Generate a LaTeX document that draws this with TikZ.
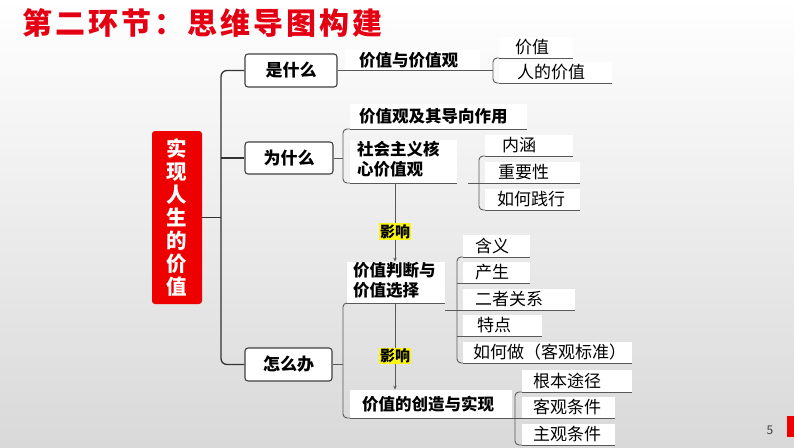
\documentclass[tikz,border=0pt]{standalone}
\usepackage{fontspec}
\setmainfont{Noto Sans CJK SC}
\usetikzlibrary{arrows.meta}
\definecolor{titlered}{RGB}{228,0,18}
\definecolor{boxred}{RGB}{238,0,0}
\definecolor{hiyellow}{RGB}{250,245,20}
\newcommand\mk[3]{\makebox[#1pt][l]{\hspace{#2pt}#3}}
\begin{document}
\begin{tikzpicture}[x=1pt,y=-1pt,
  ln/.style={draw=black!65,line width=0.9pt},
  trunk/.style={draw=black!80,line width=1.3pt},
  topbox/.style={draw=black!75,line width=1.1pt,fill=white,rounded corners=3pt,inner sep=0pt,
    font=\bfseries\fontsize{17}{20}\selectfont},
  redbox/.style={fill=boxred,rounded corners=3pt,inner sep=0pt,text=white,align=center,
    font=\bfseries\fontsize{20.5}{23}\selectfont},
  hd/.style={fill=white,inner sep=0pt,anchor=south west,align=left,
    font=\bfseries\fontsize{16.5}{20}\selectfont,
    append after command={(\tikzlastnode.south west) edge[ln] (\tikzlastnode.south east)}},
  itm/.style={fill=white,inner sep=0pt,anchor=south west,
    font=\fontsize{17}{20}\selectfont,
    append after command={(\tikzlastnode.south west) edge[ln] (\tikzlastnode.south east)}},
  yl/.style={fill=hiyellow,inner sep=1pt,font=\bfseries\fontsize{15}{17}\selectfont},
  arr/.style={ln,-{Stealth[length=4pt,width=3.5pt]}}
]
\useasboundingbox (0,0) rectangle (794,447);
\shade[top color=white,bottom color=black!15] (0,0) rectangle (794,447);

% title
\node[anchor=west,inner sep=0pt,text=titlered,font=\bfseries\fontsize{30}{30}\selectfont] (tt) at (22,23)
  {\makebox[360pt][l]{第\hfill 二\hfill 环\hfill 节\hfill ：\hfill 思\hfill 维\hfill 导\hfill 图\hfill 构\hfill 建}};

% root
\node[redbox,minimum width=50,minimum height=173] (rt) at (177,217.5) {实\\现\\人\\生\\的\\价\\值};
\coordinate (tk) at (221,217.5);

% level 1
\node[topbox,minimum width=92,minimum height=33] (sh) at (291,70.5) {是什么};
\node[topbox,minimum width=88,minimum height=32] (wsm) at (289,158) {为什么};
\node[topbox,minimum width=87,minimum height=33] (zm) at (288.5,364.5) {怎么办};

\draw[trunk] (rt.east) -- (tk);
\draw[trunk,rounded corners=6pt] (sh.west) -| (tk) |- (zm.west);
\draw[trunk] (wsm.west) -- (wsm.west -| tk);

% group A : 是什么
\node[hd,minimum height=20] (h1) at (345,70.5) {\mk{135}{14}{价值与价值观}};
\node[itm,minimum height=21] (a1) at (499,58) {\mk{74}{16}{价值}};
\node[itm,minimum height=21] (a2) at (499,83) {\mk{113}{18}{人的价值}};
\draw[ln] (sh.east) -- (h1.south west);
\coordinate (ab) at (493,70.5);
\draw[ln] (h1.south east) -- (ab);
\draw[ln,rounded corners=4pt] (a1.south west) -| (ab) |- (a2.south west);

% group B : 为什么
\node[hd,minimum height=25] (b1) at (350,129) {\mk{177}{9}{价值观及其导向作用}};
\node[hd,minimum height=43] (b2) at (350,183) {\mk{107}{7}{\begin{tabular}{@{}l@{}}社会主义核\\心价值观\end{tabular}}};
\coordinate (bb) at (343,158);
\draw[ln] (wsm.east) -- (bb);
\draw[ln,rounded corners=4pt] (b1.south west) -| (bb) |- (b2.south west);

% group C
\node[itm,minimum height=21] (c1) at (485,156) {\mk{88}{17}{内涵}};
\node[itm,minimum height=21] (c2) at (485,183) {\mk{95}{13}{重要性}};
\node[itm,minimum height=21] (c3) at (485,210) {\mk{95}{12}{如何践行}};
\coordinate (cb) at (479,183);
\draw[ln] ([xshift=11pt]b2.south east) -- (c2.south west);
\draw[ln,rounded corners=4pt] (c1.south west) -| (cb) |- (c3.south west);

% group D : 怎么办
\node[hd,minimum height=41] (d1) at (347,303) {\mk{98}{6}{\begin{tabular}{@{}l@{}}价值判断与\\价值选择\end{tabular}}};
\node[hd,minimum height=28] (d2) at (350,418) {\mk{162}{12}{价值的创造与实现}};
\coordinate (db) at (343,364.5);
\draw[ln] (zm.east) -- (db);
\draw[ln,rounded corners=4pt] (d1.south west) -| (db) |- (d2.south west);

% influence arrows
\node[yl] (y1) at (395,231.5) {影响};
\node[yl] (y2) at (395,356) {影响};
\draw[ln] (b2.south -| y1) -- (y1.north);
\draw[arr] (y1.south) -- (d1.north -| y1);
\draw[ln] (d1.south -| y2) -- (y2.north);
\draw[arr] (y2.south) -- (d2.north -| y2);

% group E
\node[itm,minimum height=22] (e1) at (463,257) {\mk{67}{12}{含义}};
\node[itm,minimum height=21] (e2) at (463,283) {\mk{67}{12}{产生}};
\node[itm,minimum height=21] (e3) at (463,310) {\mk{112}{12}{二者关系}};
\node[itm,minimum height=21] (e4) at (463,336) {\mk{79}{14}{特点}};
\node[itm,minimum height=21] (e5) at (463,363) {\mk{169}{10}{如何做（客观标准）}};
\coordinate (eb) at (457,310);
\draw[ln] ([yshift=-7pt]d1.south east) -- (e3.south west);
\draw[ln,rounded corners=4pt] (e1.south west) -| (eb) |- (e5.south west);
\draw[ln] (e2.south west -| eb) -- (e2.south west);
\draw[ln] (e4.south west -| eb) -- (e4.south west);

% group F
\node[itm,minimum height=22] (f1) at (522,392) {\mk{110}{11}{根本途径}};
\node[itm,minimum height=21] (f2) at (522,418) {\mk{93}{11}{客观条件}};
\node[itm,minimum height=21] (f3) at (522,445) {\mk{93}{11}{主观条件}};
\coordinate (fb) at (515,418);
\draw[ln] (d2.south east) -- (f2.south west);
\draw[ln,rounded corners=4pt] (f1.south west) -| (fb) |- (f3.south west);

% page number
\node[text=black!75,font=\fontsize{12}{12}\selectfont,inner sep=0pt] (pg) at (770,430) {5};
\fill[boxred] (787,416) rectangle (794,437);
\end{tikzpicture}
\end{document}
